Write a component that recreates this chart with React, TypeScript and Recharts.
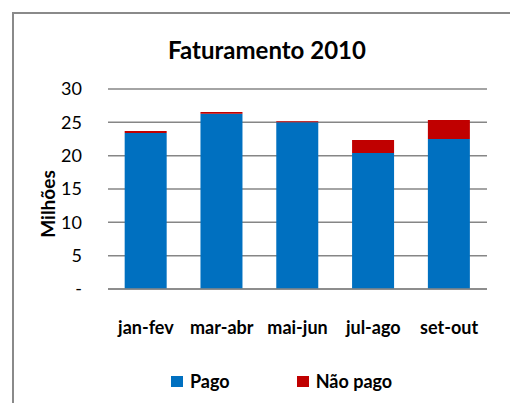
import { BarChart, Bar, XAxis, YAxis, CartesianGrid, Legend } from 'recharts';

const periods = ['jan-fev', 'mar-abr', 'mai-jun', 'jul-ago', 'set-out'];
const pago = [23.4, 26.3, 25.0, 20.4, 22.5];
const naoPago = [0.3, 0.25, 0.15, 1.95, 2.85];
const yTicks = [0, 5, 10, 15, 20, 25, 30];

const data = periods.map((p, i) => ({ periodo: p, pago: pago[i], naoPago: naoPago[i] }));

const FONT = 'Lato, "Open Sans", sans-serif';

function LegendContent() {
  const items = [
    { label: 'Pago', color: '#0070C0' },
    { label: 'Não pago', color: '#C00000' },
  ];
  return (
    <div style={{ display: 'flex', paddingLeft: 171, gap: 67, fontFamily: FONT, fontSize: 18, fontWeight: 700, color: '#000' }}>
      {items.map(it => (
        <div key={it.label} style={{ display: 'flex', alignItems: 'center' }}>
          <span style={{ display: 'inline-block', width: 12, height: 11, background: it.color, marginRight: 7 }} />
          {it.label}
        </div>
      ))}
    </div>
  );
}

export default function App() {
  return (
    <div style={{ position: 'absolute', left: 0, top: 0, width: 510, height: 403, overflow: 'hidden', background: '#fff' }}>
      <div style={{ position: 'absolute', left: 12, top: 12, width: 600, height: 500, borderLeft: '2px solid #8a8a8a', borderTop: '2px solid #8a8a8a' }} />
      <div style={{ position: 'absolute', left: 0, top: 35, width: 534, textAlign: 'center', fontFamily: FONT, fontSize: 24, fontWeight: 700, color: '#000' }}>
        Faturamento 2010
      </div>
      <div style={{ position: 'absolute', left: 47, top: 204, transform: 'translate(-50%, -50%) rotate(-90deg)', fontFamily: FONT, fontSize: 19, fontWeight: 700, color: '#000', whiteSpace: 'nowrap' }}>
        Milhões
      </div>
      <div style={{ position: 'absolute', left: 0, top: 0 }}>
        <BarChart width={510} height={403} data={data} margin={{ top: 89, right: 23, left: 48, bottom: 84 }} barCategoryGap="22%">
          <CartesianGrid vertical={false} stroke="#868686" strokeWidth={1.5} />
          <XAxis
            dataKey="periodo"
            height={30}
            axisLine={{ stroke: '#868686', strokeWidth: 1.5 }}
            tickLine={false}
            tickSize={0}
            tickMargin={32}
            tick={{ fill: '#000', fontSize: 18, fontWeight: 700, fontFamily: FONT }}
          />
          <YAxis
            width={60}
            domain={[0, 30]}
            ticks={yTicks}
            axisLine={false}
            tickLine={false}
            tickSize={0}
            tickMargin={26}
            tickFormatter={(v: number) => (v === 0 ? '-' : String(v))}
            tick={{ fill: '#000', fontSize: 18, fontFamily: FONT }}
          />
          <Legend verticalAlign="middle" layout="horizontal" content={<LegendContent />} wrapperStyle={{ position: 'absolute', top: 370, left: 0, width: 510 }} />
          <Bar dataKey="pago" name="Pago" stackId="a" fill="#0070C0" isAnimationActive={false} />
          <Bar dataKey="naoPago" name="Não pago" stackId="a" fill="#C00000" isAnimationActive={false} />
        </BarChart>
      </div>
    </div>
  );
}
